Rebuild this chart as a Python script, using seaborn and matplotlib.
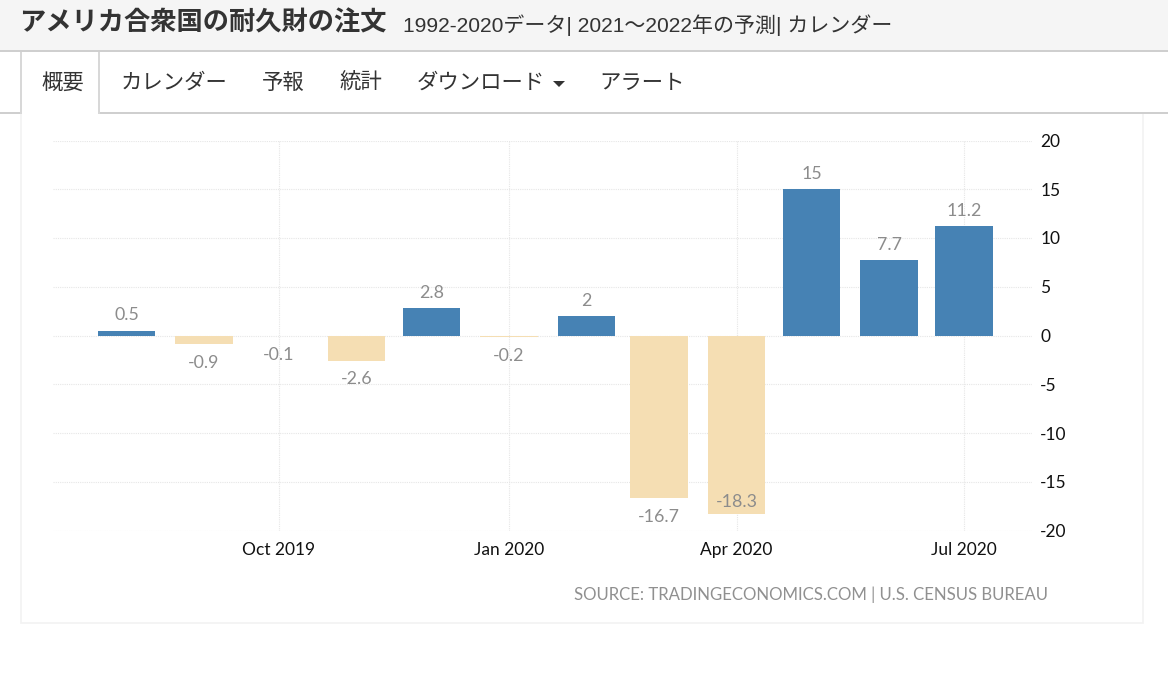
import datetime as dt
import matplotlib
matplotlib.use("Agg")
import matplotlib.dates as mdates
import matplotlib.pyplot as plt
from matplotlib.patches import Rectangle, Polygon
import pandas as pd
import seaborn as sns

# data
months = ["2019-08-01", "2019-09-01", "2019-10-01", "2019-11-01", "2019-12-01", "2020-01-01",
          "2020-02-01", "2020-03-01", "2020-04-01", "2020-05-01", "2020-06-01", "2020-07-01"]
values = [0.5, -0.9, -0.1, -2.6, 2.8, -0.2, 2, -16.7, -18.3, 15, 7.7, 11.2]
value_labels = ["0.5", "-0.9", "-0.1", "-2.6", "2.8", "-0.2", "2", "-16.7", "-18.3", "15", "7.7", "11.2"]
y_ticks = [20, 15, 10, 5, 0, -5, -10, -15, -20]
x_tick_dates = ["2019-10-01", "2020-01-01", "2020-04-01", "2020-07-01"]
x_tick_labels = ["Oct 2019", "Jan 2020", "Apr 2020", "Jul 2020"]
nav_items = ["概要", "カレンダー", "予報", "統計", "ダウンロード", "アラート"]
title = "アメリカ合衆国の耐久財の注文"
subtitle = "1992-2020データ| 2021～2022年の予測| カレンダー"
source = "SOURCE: TRADINGECONOMICS.COM | U.S. CENSUS BUREAU"

W, H = 1168, 673

sns.set_theme(style="white")
plt.rcParams["font.family"] = ["Liberation Sans", "Noto Sans CJK JP"]

fig = plt.figure(figsize=(W / 100, H / 100), dpi=100, facecolor="white")


def box(x0, y0, x1, y1, **kw):
    # pixel box, y measured from the top like the page
    fig.add_artist(Rectangle((x0 / W, 1 - y1 / H), (x1 - x0) / W, (y1 - y0) / H,
                             transform=fig.transFigure, **kw))


def label(x, y, s, **kw):
    fig.text(x / W, 1 - y / H, s, va="center", **kw)


# page chrome
box(0, 0, W, 50, fc="#f5f5f5", ec="none")
box(0, 50, W, 52, fc="#cfcfcf", ec="none")
box(21, 113, 1143, 623, fc="white", ec="#f2f2f2", lw=1.2)
box(0, 112, W, 114, fc="#cfcfcf", ec="none")
box(20, 52, 22, 114, fc="#d8d8d8", ec="none")
box(98, 52, 100, 114, fc="#d8d8d8", ec="none")
box(22, 52, 98, 116, fc="white", ec="none")

label(19, 23, title, fontsize=18.9, fontweight="bold", color="#333333")
label(403, 25, subtitle, fontsize=15.1, color="#333333")

nav_x = [41, 121, 262, 339, 417, 599]
for nx, item in zip(nav_x, nav_items):
    label(nx, 83, item, fontsize=15.4, color="#333333")
fig.add_artist(Polygon([(553 / W, 1 - 81 / H), (565 / W, 1 - 81 / H), (559 / W, 1 - 87 / H)],
                       transform=fig.transFigure, fc="#333333", ec="none"))

# chart, 2.5 px per day
ax_left, ax_right, ax_top, ax_bottom = 53, 1032, 140.5, 530.5
ax = fig.add_axes([ax_left / W, 1 - ax_bottom / H, (ax_right - ax_left) / W, (ax_bottom - ax_top) / H])
ax.patch.set_alpha(0)
ax.set_zorder(5)

df = pd.DataFrame({"month": mdates.date2num([dt.date.fromisoformat(m) for m in months]), "value": values})
df["sign"] = ["up" if v >= 0 else "down" for v in values]

sns.barplot(data=df, x="month", y="value", hue="sign", native_scale=True, dodge=False,
            palette={"up": "#4682b4", "down": "#f5deb3"}, saturation=1, legend=False,
            linewidth=0, ax=ax, zorder=3)

oct_num = mdates.date2num(dt.date(2019, 10, 1))
ax.set_xlim(oct_num + (ax_left - 279) / 2.5, oct_num + (ax_right - 279) / 2.5)
ax.set_ylim(-20, 20)

ax.set_xticks(mdates.date2num([dt.date.fromisoformat(d) for d in x_tick_dates]))
ax.set_xticklabels(x_tick_labels)
ax.set_yticks(y_ticks)
ax.set_yticklabels([str(t) for t in y_ticks], ha="left")
ax.yaxis.tick_right()
ax.tick_params(axis="both", length=0, labelsize=12.5, labelcolor="#111111", labelfontfamily="Lato")
ax.tick_params(axis="x", pad=8)
ax.tick_params(axis="y", pad=6)
ax.set_xlabel("")
ax.set_ylabel("")
ax.grid(True, color="#e6e6e6", lw=0.8, ls=(0, (1, 1)), zorder=0)
ax.set_axisbelow(True)
for s in ax.spines.values():
    s.set_visible(False)

# value labels, the lowest one sits inside its bar like in the reference
for x, v, s in zip(df["month"], values, value_labels):
    if v >= 0:
        off = 11
    elif v < -18:
        off = 8.5
    else:
        off = -13.2
    ax.annotate(s, (x, v), xytext=(0, off), textcoords="offset points", ha="center", va="center",
                fontsize=12.8, color="#8c8c8c", family="Lato", zorder=4)

label(1048, 595, source, ha="right", fontsize=12.05, color="#909090", family="Lato")

fig.savefig("out.png", dpi=100)
